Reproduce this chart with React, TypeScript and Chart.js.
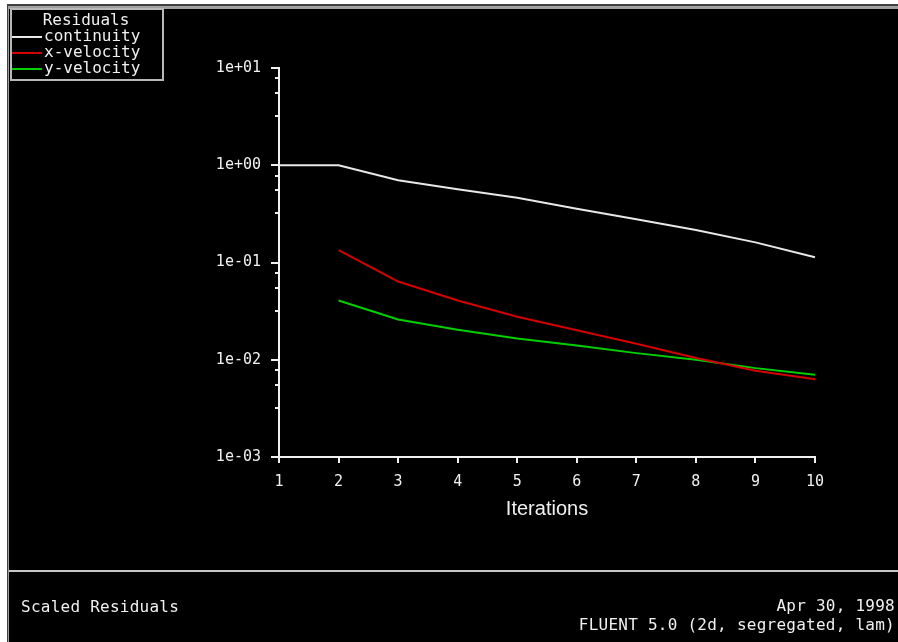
import React, { useEffect, useRef } from 'react';
import { Chart, registerables } from 'chart.js';

Chart.register(...registerables);

// ---- data ----
const iterations = [1, 2, 3, 4, 5, 6, 7, 8, 9, 10];
const continuity = [1.0, 1.0, 0.70, 0.565, 0.463, 0.357, 0.279, 0.216, 0.161, 0.113];
const xVelocity = [null, 0.134, 0.0637, 0.0407, 0.0277, 0.0201, 0.0146, 0.0104, 0.0077, 0.0063];
const yVelocity = [null, 0.0407, 0.0259, 0.0203, 0.0165, 0.0140, 0.0117, 0.0100, 0.0082, 0.0070];

const yTickValues = [0.001, 0.01, 0.1, 1, 10];
const yTickLabels = ['1e-03', '1e-02', '1e-01', '1e+00', '1e+01'];
const minorTickFactors = [3.2, 5.5, 7.8];

const seriesLabels = ['continuity', 'x-velocity', 'y-velocity'];
const seriesColors = ['#e8e8e8', '#d40000', '#00d000'];

const legendTitle = 'Residuals';
const xAxisTitle = 'Iterations';
const footerLeft = 'Scaled Residuals';
const footerDate = 'Apr 30, 1998';
const footerProduct = 'FLUENT 5.0 (2d, segregated, lam)';

const W = 898;
const H = 642;
const MONO = '"DejaVu Sans Mono", "Liberation Mono", monospace';
const SANS = '"Liberation Sans", Arial, sans-serif';
const FG = '#f0f0f0';

export default function App() {
  const ref = useRef<HTMLCanvasElement>(null);

  useEffect(() => {
    const canvas = ref.current;
    if (!canvas) return;

    const framePlugin = {
      id: 'frame',
      beforeDraw(chart: any) {
        const ctx = chart.ctx;
        ctx.save();
        ctx.fillStyle = '#ffffff';
        ctx.fillRect(0, 0, W, H);
        ctx.fillStyle = '#404040';
        ctx.fillRect(7, 4, W - 7, H - 4);
        ctx.fillStyle = '#a0a0a0';
        ctx.fillRect(8, 6, W - 8, H - 6);
        ctx.fillStyle = '#000000';
        ctx.fillRect(9, 9, W - 9, H - 9);
        // separator above footer
        ctx.fillStyle = '#c8c8c8';
        ctx.fillRect(9, 570, W - 9, 2);
        ctx.restore();
      },
    };

    const minorTicksPlugin = {
      id: 'minorTicks',
      afterDraw(chart: any) {
        const ctx = chart.ctx;
        const ys = chart.scales.y;
        const left = chart.chartArea.left;
        ctx.save();
        ctx.strokeStyle = FG;
        ctx.lineWidth = 2;
        for (let i = 0; i < yTickValues.length - 1; i++) {
          for (const f of minorTickFactors) {
            const py = Math.round(ys.getPixelForValue(yTickValues[i] * f));
            ctx.beginPath();
            ctx.moveTo(left - 4, py);
            ctx.lineTo(left, py);
            ctx.stroke();
          }
        }
        ctx.restore();
      },
    };

    const legendPlugin = {
      id: 'boxLegend',
      afterDraw(chart: any) {
        const ctx = chart.ctx;
        ctx.save();
        ctx.fillStyle = FG;
        ctx.font = `16px ${MONO}`;
        ctx.textBaseline = 'middle';
        ctx.textAlign = 'center';
        ctx.fillText(legendTitle, 86, 21);
        chart.data.datasets.forEach((ds: any, i: number) => {
          const y = 37 + i * 16;
          ctx.strokeStyle = ds.borderColor;
          ctx.lineWidth = 2;
          ctx.beginPath();
          ctx.moveTo(11, y);
          ctx.lineTo(42, y);
          ctx.stroke();
          ctx.textAlign = 'left';
          ctx.fillStyle = FG;
          ctx.fillText(ds.label, 44, y);
        });
        ctx.strokeStyle = '#b8b8b8';
        ctx.lineWidth = 2;
        ctx.strokeRect(11, 9, 152, 71);
        ctx.restore();
      },
    };

    const footerPlugin = {
      id: 'footer',
      afterDraw(chart: any) {
        const ctx = chart.ctx;
        ctx.save();
        ctx.fillStyle = FG;
        ctx.font = `16px ${MONO}`;
        try {
          (ctx as any).letterSpacing = '0.25px';
        } catch (e) {
          /* ignore */
        }
        ctx.textBaseline = 'middle';
        ctx.textAlign = 'left';
        ctx.fillText(footerLeft, 21, 608);
        ctx.textAlign = 'right';
        ctx.fillText(footerDate, 895, 607);
        ctx.fillText(footerProduct, 895, 626);
        ctx.restore();
      },
    };

    const chart = new Chart(canvas, {
      type: 'line',
      data: {
        labels: iterations.map(String),
        datasets: [continuity, xVelocity, yVelocity].map((values, i) => ({
          label: seriesLabels[i],
          data: values,
          borderColor: seriesColors[i],
          backgroundColor: seriesColors[i],
          borderWidth: 2,
          pointRadius: 0,
          tension: 0,
          fill: false,
        })),
      },
      options: {
        responsive: false,
        animation: false,
        devicePixelRatio: 1,
        layout: { padding: { left: 0, top: 68, right: 83, bottom: 0 } },
        plugins: {
          legend: { display: false },
          tooltip: { enabled: false },
          title: { display: false },
        },
        scales: {
          x: {
            type: 'category',
            offset: false,
            grid: {
              drawOnChartArea: false,
              drawTicks: true,
              tickLength: 6,
              color: FG,
              lineWidth: 2,
            },
            border: { display: true, color: FG, width: 2 },
            ticks: {
              color: FG,
              font: { family: MONO, size: 15 },
              padding: 10,
              maxRotation: 0,
              autoSkip: false,
            },
            title: {
              display: true,
              text: xAxisTitle,
              color: FG,
              font: { family: SANS, size: 20 },
              padding: { top: 0, bottom: 121 },
            },
            afterFit: (s: any) => {
              s.height = H - 457;
            },
          },
          y: {
            type: 'logarithmic',
            min: 0.001,
            max: 10,
            afterBuildTicks: (s: any) => {
              s.ticks = yTickValues.map((v) => ({ value: v }));
            },
            grid: {
              drawOnChartArea: false,
              drawTicks: true,
              tickLength: 8,
              color: FG,
              lineWidth: 2,
            },
            border: { display: true, color: FG, width: 2 },
            ticks: {
              color: FG,
              font: { family: MONO, size: 15 },
              padding: 10,
              autoSkip: false,
              callback: (v: any) => {
                const idx = yTickValues.findIndex((t) => Math.abs(t - Number(v)) < t * 1e-6);
                return idx >= 0 ? yTickLabels[idx] : '';
              },
            },
            afterFit: (s: any) => {
              s.width = 279;
            },
          },
        },
      },
      plugins: [framePlugin, minorTicksPlugin, legendPlugin, footerPlugin],
    } as any);

    return () => chart.destroy();
  }, []);

  return (
    <canvas
      ref={ref}
      width={W}
      height={H}
      style={{ position: 'fixed', left: 0, top: 0, width: W, height: H, display: 'block' }}
    />
  );
}
